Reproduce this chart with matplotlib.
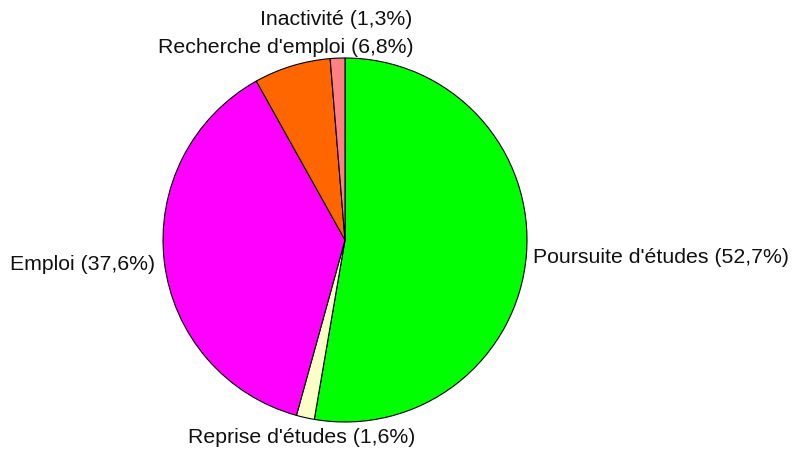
import numpy as np
import matplotlib
matplotlib.use('Agg')
import matplotlib.pyplot as plt

# Data
categories = ["Poursuite d'études", "Reprise d'études", "Emploi",
              "Recherche d'emploi", "Inactivité"]
shares = [52.7, 1.6, 37.6, 6.8, 1.3]
colors = ['#00FF00', '#FFFFC8', '#FF00FF', '#FF6600', '#FF8080']
label_dist = [1.035, 1.10, 1.05, 1.115, 1.225]

plt.rcParams['font.family'] = ['Liberation Sans', 'DejaVu Sans']

W, H = 798, 454
fig = plt.figure(figsize=(W / 100, H / 100), dpi=100)
cx, cy, R = 345, 240, 182
ax = fig.add_axes([(cx - R) / W, (H - cy - R) / H, 2 * R / W, 2 * R / H])

wedges, _ = ax.pie(shares, colors=colors, startangle=90, counterclock=False,
                   radius=1.0, wedgeprops=dict(edgecolor='black', linewidth=0.8))
ax.set_xlim(-1, 1)
ax.set_ylim(-1, 1)
ax.set_aspect('equal')
ax.axis('off')

for w, name, val, d in zip(wedges, categories, shares, label_dist):
    mid = np.deg2rad((w.theta1 + w.theta2) / 2)
    x, y = d * np.cos(mid), d * np.sin(mid)
    if np.cos(mid) > 0.5:
        ha = 'left'
    elif np.cos(mid) < -0.5:
        ha = 'right'
    else:
        ha = 'center'
    label = f"{name} ({val:.1f}%)".replace('.', ',')
    ax.text(x, y, label, ha=ha, va='center_baseline', fontsize=15.3,
            color='#111111', clip_on=False)

fig.savefig('out.png', dpi=100)
